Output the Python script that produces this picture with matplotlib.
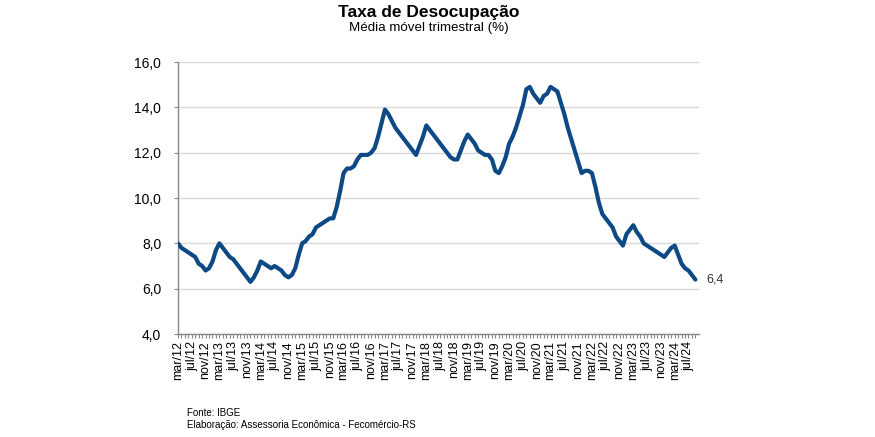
import matplotlib
matplotlib.use("Agg")
import matplotlib.pyplot as plt
from matplotlib.ticker import FixedLocator

plt.rcParams['font.family'] = ['Liberation Sans', 'DejaVu Sans']

# Desocupação (%), média móvel trimestral, mar/12 .. set/24
values = [
    # 2012 mar-dez
    8.0, 7.8, 7.7, 7.6, 7.5, 7.4, 7.1, 7.0, 6.8, 6.9,
    # 2013
    7.2, 7.7, 8.0, 7.8, 7.6, 7.4, 7.3, 7.1, 6.9, 6.7, 6.5, 6.3,
    # 2014
    6.5, 6.8, 7.2, 7.1, 7.0, 6.9, 7.0, 6.9, 6.8, 6.6, 6.5, 6.6,
    # 2015
    6.9, 7.5, 8.0, 8.1, 8.3, 8.4, 8.7, 8.8, 8.9, 9.0, 9.1, 9.1,
    # 2016
    9.6, 10.3, 11.1, 11.3, 11.3, 11.4, 11.7, 11.9, 11.9, 11.9, 12.0, 12.2,
    # 2017
    12.7, 13.3, 13.9, 13.7, 13.4, 13.1, 12.9, 12.7, 12.5, 12.3, 12.1, 11.9,
    # 2018
    12.3, 12.7, 13.2, 13.0, 12.8, 12.6, 12.4, 12.2, 12.0, 11.8, 11.7, 11.7,
    # 2019
    12.1, 12.5, 12.8, 12.6, 12.4, 12.1, 12.0, 11.9, 11.9, 11.7, 11.2, 11.1,
    # 2020
    11.4, 11.8, 12.4, 12.7, 13.1, 13.6, 14.1, 14.8, 14.9, 14.6, 14.4, 14.2,
    # 2021
    14.5, 14.6, 14.9, 14.8, 14.7, 14.2, 13.7, 13.1, 12.6, 12.1, 11.6, 11.1,
    # 2022
    11.2, 11.2, 11.1, 10.5, 9.8, 9.3, 9.1, 8.9, 8.7, 8.3, 8.1, 7.9,
    # 2023
    8.4, 8.6, 8.8, 8.5, 8.3, 8.0, 7.9, 7.8, 7.7, 7.6, 7.5, 7.4,
    # 2024 jan-set
    7.6, 7.8, 7.9, 7.5, 7.1, 6.9, 6.8, 6.6, 6.4,
]

tick_labels = ['mar/12', 'jul/12', 'nov/12']
for yy in range(13, 24):
    tick_labels += [f'mar/{yy}', f'jul/{yy}', f'nov/{yy}']
tick_labels += ['mar/24', 'jul/24']

y_ticks = [4, 6, 8, 10, 12, 14, 16]
last_label = '6,4'

fig = plt.figure(figsize=(8.75, 4.37), dpi=100)
ax = fig.add_axes([178 / 875, 1 - 334 / 437, (698.5 - 178) / 875, (334 - 62) / 437])

x = list(range(len(values)))
ax.plot(x, values, color='#0D4A85', lw=3.0, solid_joinstyle='round', solid_capstyle='round', zorder=3)

ax.set_ylim(4, 16)
ax.set_xlim(0, 150.9)
ax.set_yticks(y_ticks)
ax.set_yticklabels([f'{v:.1f}'.replace('.', ',') for v in y_ticks], fontsize=10, color='black')
ax.yaxis.grid(True, color='#D9D9D9', lw=1)
ax.set_axisbelow(True)

major = list(range(0, len(values), 4))[:len(tick_labels)]
ax.xaxis.set_major_locator(FixedLocator(major))
ax.set_xticklabels(tick_labels, rotation=90, fontsize=9, color='black')
ax.xaxis.set_minor_locator(FixedLocator(list(range(0, 151))))
ax.tick_params(axis='x', which='both', length=3, width=0.8, color='#888888', pad=2)
ax.tick_params(axis='y', length=3, width=0.8, color='#888888', pad=9)

for s in ['top', 'right']:
    ax.spines[s].set_visible(False)
ax.spines['left'].set_color('#888888')
ax.spines['bottom'].set_color('#888888')
ax.spines['left'].set_linewidth(1)
ax.spines['bottom'].set_linewidth(1)

ax.annotate(last_label, xy=(x[-1], values[-1]), xytext=(8, 0), textcoords='offset points',
            fontsize=9, color='#333333', va='center', ha='left', annotation_clip=False)

fig.text(429 / 875, 1 - 12 / 437, 'Taxa de Desocupação', ha='center', va='center',
         fontsize=12.5, fontweight='bold')
fig.text(428.5 / 875, 1 - 28 / 437, 'Média móvel trimestral (%)', ha='center', va='center',
         fontsize=9.6)
fig.text(187 / 875, 1 - 413 / 437, 'Fonte: IBGE', ha='left', va='center', fontsize=7)
fig.text(187 / 875, 1 - 425 / 437, 'Elaboração: Assessoria Econômica - Fecomércio-RS',
         ha='left', va='center', fontsize=7)

fig.savefig('out.png', dpi=100)
